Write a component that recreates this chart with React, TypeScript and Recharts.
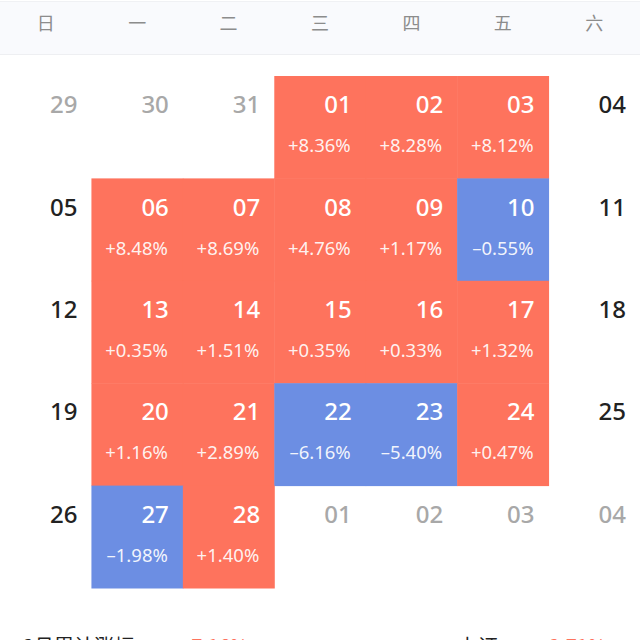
import { ScatterChart, Scatter, XAxis, YAxis } from "recharts";

const weekdays = ["日", "一", "二", "三", "四", "五", "六"];

// 35 calendar slots, Sunday first
const dayLabels = [
  "29", "30", "31", "01", "02", "03", "04",
  "05", "06", "07", "08", "09", "10", "11",
  "12", "13", "14", "15", "16", "17", "18",
  "19", "20", "21", "22", "23", "24", "25",
  "26", "27", "28", "01", "02", "03", "04",
];

// 0 = other month, 1 = current month
const inMonth = [
  0, 0, 0, 1, 1, 1, 1,
  1, 1, 1, 1, 1, 1, 1,
  1, 1, 1, 1, 1, 1, 1,
  1, 1, 1, 1, 1, 1, 1,
  1, 1, 1, 0, 0, 0, 0,
];

const changes: (number | null)[] = [
  null, null, null, 8.36, 8.28, 8.12, null,
  null, 8.48, 8.69, 4.76, 1.17, -0.55, null,
  null, 0.35, 1.51, 0.35, 0.33, 1.32, null,
  null, 1.16, 2.89, -6.16, -5.4, 0.47, null,
  null, -1.98, 1.4, null, null, null, null,
];

const W = 640;
const TOP = 76;
const ROWS = 5;
const PLOT_H = 512;
const CELL_W = W / 7;
const CELL_H = PLOT_H / ROWS;
const UP = "#fe735d";
const DOWN = "#6c8ee3";
const NUM_FONT = "'Noto Sans', Roboto, sans-serif";

const data = dayLabels.map((label, i) => ({
  col: (i % 7) + 0.5,
  row: Math.floor(i / 7) + 0.5,
  label,
  inMonth: inMonth[i],
  change: changes[i],
}));

const fmt = (v: number) =>
  (v >= 0 ? "+" : "\u2013") + Math.abs(v).toFixed(2) + "%";

function Cell(props: any) {
  const { cx, cy, payload } = props;
  const c = payload.change;
  const right = cx + CELL_W / 2 - 14;
  const numColor = c != null ? "#fff" : payload.inMonth ? "#222" : "#a8a8a8";
  return (
    <g>
      {c != null && (
        <rect
          x={cx - CELL_W / 2}
          y={cy - CELL_H / 2}
          width={CELL_W + 0.5}
          height={CELL_H + 0.5}
          fill={c >= 0 ? UP : DOWN}
        />
      )}
      <text
        x={right}
        y={cy - 14}
        textAnchor="end"
        fontSize={24}
        fontWeight={500}
        fill={numColor}
        fontFamily={NUM_FONT}
      >
        {payload.label}
      </text>
      {c != null && (
        <text
          x={right - 1}
          y={cy + 25}
          textAnchor="end"
          fontSize={18.5}
          fill="#fff"
          fillOpacity={0.92}
          fontFamily={NUM_FONT}
        >
          {fmt(c)}
        </text>
      )}
    </g>
  );
}

function WeekTick(props: any) {
  const { x, payload } = props;
  return (
    <text
      x={x}
      y={30}
      textAnchor="middle"
      fontSize={18}
      fill="#8c8c8c"
      fontFamily="'Noto Sans CJK SC', sans-serif"
    >
      {weekdays[Math.round(payload.value - 0.5)]}
    </text>
  );
}

export default function App() {
  return (
    <div
      style={{
        position: "absolute",
        left: 0,
        top: 0,
        width: W,
        height: 640,
        overflow: "hidden",
        background: "#fff",
      }}
    >
      <div
        style={{
          position: "absolute",
          left: 0,
          top: 1,
          width: W,
          height: 52,
          background: "#f9fafd",
          borderTop: "1px solid #f0f1f4",
          borderBottom: "1px solid #eeeff2",
        }}
      />
      <div style={{ position: "absolute", left: 0, top: 0 }}>
        <ScatterChart
          width={W}
          height={660}
          margin={{ top: 0, right: 0, bottom: 660 - TOP - PLOT_H, left: 0 }}
        >
          <XAxis
            xAxisId="x"
            dataKey="col"
            type="number"
            orientation="top"
            domain={[0, 7]}
            ticks={[0.5, 1.5, 2.5, 3.5, 4.5, 5.5, 6.5]}
            height={TOP}
            axisLine={false}
            tickLine={false}
            tick={<WeekTick />}
          />
          <YAxis
            yAxisId="y"
            dataKey="row"
            type="number"
            domain={[0, ROWS]}
            reversed
            hide
          />
          <Scatter
            xAxisId="x"
            yAxisId="y"
            data={data}
            shape={<Cell />}
            isAnimationActive={false}
          />
        </ScatterChart>
      </div>
      <div
        style={{
          position: "absolute",
          left: 23,
          top: 631,
          fontSize: 20,
          fontFamily: "'Noto Sans CJK SC', sans-serif",
          color: "#222",
          whiteSpace: "nowrap",
        }}
      >
        2月累计涨幅
        <span style={{ color: UP, marginLeft: 46 }}>+7.16%</span>
      </div>
      <div
        style={{
          position: "absolute",
          left: 458,
          top: 631,
          fontSize: 20,
          fontFamily: "'Noto Sans CJK SC', sans-serif",
          color: "#222",
          whiteSpace: "nowrap",
        }}
      >
        上证
        <span style={{ color: UP, marginLeft: 40 }}>+2.71%</span>
      </div>
    </div>
  );
}
